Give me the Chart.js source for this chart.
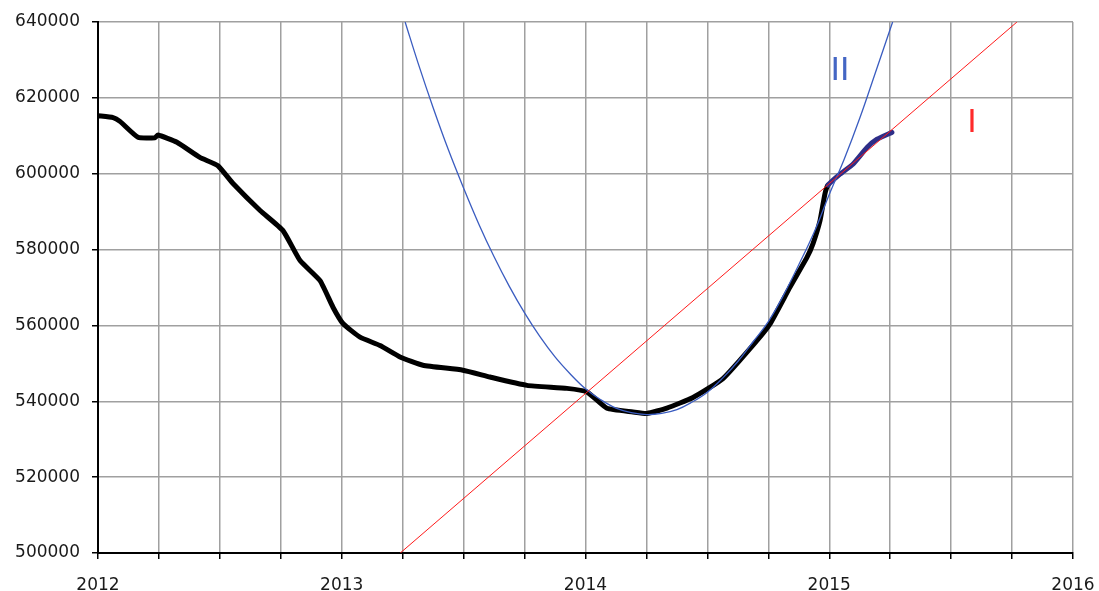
<!DOCTYPE html>
<html>
<head>
<meta charset="utf-8">
<script src="https://cdn.jsdelivr.net/npm/chart.js@4/dist/chart.umd.min.js"></script>
<style>
  body { margin: 0; background: #fff; }
  #chart { display: block; }
</style>
</head>
<body>
<canvas id="chart" width="1099" height="591"></canvas>
<script>
// data (x in years)
var actualYears = [2012.0, 2012.062, 2012.09, 2012.164, 2012.234, 2012.246, 2012.324, 2012.418, 2012.492,
  2012.554, 2012.665, 2012.759, 2012.829, 2012.911, 2012.964, 2013.005, 2013.075, 2013.157, 2013.239,
  2013.333, 2013.497, 2013.608, 2013.76, 2013.924, 2014.006, 2014.088, 2014.195, 2014.252, 2014.334,
  2014.441, 2014.564, 2014.703, 2014.757, 2014.839, 2014.909, 2014.933, 2014.962, 2014.982, 2014.995,
  2015.044, 2015.097, 2015.155, 2015.196, 2015.257];
var actualValues = [615300, 614800, 613800, 609600, 609500, 610200, 608300, 604300, 602100,
  597400, 590300, 585000, 577100, 571800, 564800, 560500, 556900, 554700, 551700,
  549500, 548200, 546400, 544200, 543400, 542450, 538150, 537200, 536800, 538200,
  541000, 546000, 556000, 560400, 570100, 578000, 581500, 587600, 594600, 597000,
  599900, 602500, 606900, 609100, 610900];

var curveYears = [2013.26, 2013.3125, 2013.375, 2013.4375, 2013.5, 2013.5625, 2013.625, 2013.6875, 2013.75,
  2013.8125, 2013.875, 2013.9375, 2014.0, 2014.0625, 2014.125, 2014.1875, 2014.25, 2014.3125, 2014.375,
  2014.4375, 2014.5, 2014.5625, 2014.625, 2014.6875, 2014.75, 2014.8125, 2014.875, 2014.9375, 2015.0,
  2015.0625, 2015.125, 2015.1875, 2015.26];
var curveValues = [640000, 629300, 617400, 606300, 596200, 586700, 578100, 570300, 563300,
  557100, 551700, 547200, 543300, 540400, 538200, 537000, 536500, 536800, 537800,
  539800, 542400, 546100, 550500, 555700, 561000, 568000, 576000, 584500, 594500,
  604000, 614600, 626300, 640000];

var lineYears = [2013.24, 2015.77];
var lineValues = [500000, 640000];

var xMin = 2012, xMax = 2016;
var yMin = 500000, yMax = 640000;

function toPoints(xs, ys) {
  return xs.map(function(x, i) { return { x: x, y: ys[i] }; });
}

var tickFont = { family: "'DejaVu Sans', sans-serif", size: 17 };

var labelPlugin = {
  id: 'curveLabels',
  beforeDraw: function(chart) {
    var c = chart.ctx;
    c.save();
    c.fillStyle = '#fff';
    c.fillRect(0, 0, chart.width, chart.height);
    c.restore();
  },
  afterDatasetsDraw: function(chart) {
    var c = chart.ctx, xs = chart.scales.x, ys = chart.scales.y;
    c.save();
    c.font = "34px 'Liberation Sans', Arial, sans-serif";
    c.textAlign = 'center';
    c.textBaseline = 'middle';
    c.fillStyle = '#4466c4';
    c.fillText('II', xs.getPixelForValue(2015.044), ys.getPixelForValue(627100));
    c.fillStyle = '#ff2a2a';
    c.fillText('I', xs.getPixelForValue(2015.586), ys.getPixelForValue(613400));
    c.restore();
  }
};

new Chart(document.getElementById('chart'), {
  type: 'line',
  data: {
    datasets: [
      {
        label: 'I',
        data: toPoints(lineYears, lineValues),
        borderColor: '#ff1a1a',
        borderWidth: 1,
        pointRadius: 0,
        tension: 0
      },
      {
        label: 'II',
        data: toPoints(curveYears, curveValues),
        borderColor: '#3a5cc0',
        borderWidth: 1.3,
        pointRadius: 0,
        tension: 0.4
      },
      {
        label: 'actual',
        data: toPoints(actualYears, actualValues),
        borderColor: '#000',
        borderWidth: 5,
        borderJoinStyle: 'round',
        borderCapStyle: 'round',
        pointRadius: 0,
        tension: 0.15,
        segment: {
          borderColor: function(ctx) { return ctx.p0.parsed.x >= 2014.99 ? '#2e2e88' : '#000'; }
        }
      }
    ]
  },
  options: {
    responsive: false,
    animation: false,
    layout: { padding: { top: 22, right: 26, left: 0, bottom: 0 } },
    plugins: { legend: { display: false }, tooltip: { enabled: false } },
    scales: {
      x: {
        type: 'linear',
        min: xMin,
        max: xMax,
        afterFit: function(s) { s.height = 38; s.paddingLeft = 0; s.paddingRight = 0; },
        ticks: {
          stepSize: 0.25,
          autoSkip: false,
          maxRotation: 0,
          padding: 16,
          color: '#1a1a1a',
          font: tickFont,
          callback: function(v) { return Number.isInteger(v) ? String(v) : ''; }
        },
        grid: { color: '#a0a0a0', lineWidth: 1.5, tickColor: '#000', tickLength: 6, tickWidth: 1.5 },
        border: { color: '#000', width: 2 }
      },
      y: {
        min: yMin,
        max: yMax,
        afterFit: function(s) { s.width = 98; s.paddingTop = 0; s.paddingBottom = 0; },
        ticks: {
          stepSize: 20000,
          padding: 12,
          color: '#1a1a1a',
          font: tickFont,
          callback: function(v) { return String(v); }
        },
        grid: { color: '#a0a0a0', lineWidth: 1.5, tickColor: '#000', tickLength: 6, tickWidth: 1.5 },
        border: { color: '#000', width: 2 }
      }
    }
  },
  plugins: [labelPlugin]
});
</script>
</body>
</html>
